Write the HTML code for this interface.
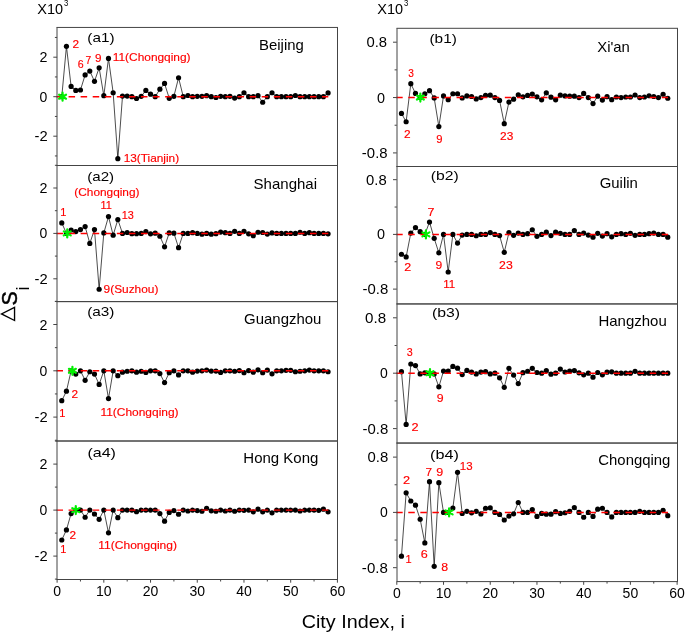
<!DOCTYPE html>
<html><head><meta charset="utf-8"><style>
html,body{margin:0;padding:0;background:#fff;}
body{width:685px;height:633px;overflow:hidden;}
svg{display:block;font-family:"Liberation Sans", sans-serif;will-change:transform;}
</style></head><body>
<svg width="685" height="633" viewBox="0 0 685 633">
<rect width="685" height="633" fill="#fff"/>
<path d="M61.77,96.70 L66.44,46.34 L71.12,86.43 L75.79,90.38 L80.46,89.98 L85.13,74.97 L89.80,71.03 L94.48,81.30 L99.15,67.87 L103.82,95.71 L108.49,58.39 L113.16,92.75 L117.84,158.72 L122.51,96.11 L127.18,96.11 L131.85,96.70 L136.52,98.48 L141.20,96.31 L145.87,90.38 L150.54,94.13 L155.21,96.70 L159.88,89.20 L164.56,83.47 L169.23,98.28 L173.90,96.31 L178.57,77.74 L183.24,96.70 L187.92,95.52 L192.59,96.70 L197.26,96.31 L201.93,96.31 L206.60,95.71 L211.28,96.70 L215.95,97.49 L220.62,96.31 L225.29,96.70 L229.96,96.31 L234.64,98.08 L239.31,96.70 L243.98,92.75 L248.65,96.70 L253.32,96.70 L258.00,95.71 L262.67,102.23 L267.34,96.70 L272.01,92.75 L276.68,96.70 L281.36,96.70 L286.03,96.70 L290.70,96.70 L295.37,95.52 L300.04,96.70 L304.72,96.70 L309.39,96.70 L314.06,96.70 L318.73,96.70 L323.40,96.70 L328.08,92.95" fill="none" stroke="#000" stroke-width="0.7"/>
<circle cx="61.77" cy="96.70" r="2.6" fill="#000"/>
<circle cx="66.44" cy="46.34" r="2.6" fill="#000"/>
<circle cx="71.12" cy="86.43" r="2.6" fill="#000"/>
<circle cx="75.79" cy="90.38" r="2.6" fill="#000"/>
<circle cx="80.46" cy="89.98" r="2.6" fill="#000"/>
<circle cx="85.13" cy="74.97" r="2.6" fill="#000"/>
<circle cx="89.80" cy="71.03" r="2.6" fill="#000"/>
<circle cx="94.48" cy="81.30" r="2.6" fill="#000"/>
<circle cx="99.15" cy="67.87" r="2.6" fill="#000"/>
<circle cx="103.82" cy="95.71" r="2.6" fill="#000"/>
<circle cx="108.49" cy="58.39" r="2.6" fill="#000"/>
<circle cx="113.16" cy="92.75" r="2.6" fill="#000"/>
<circle cx="117.84" cy="158.72" r="2.6" fill="#000"/>
<circle cx="122.51" cy="96.11" r="2.6" fill="#000"/>
<circle cx="127.18" cy="96.11" r="2.6" fill="#000"/>
<circle cx="131.85" cy="96.70" r="2.6" fill="#000"/>
<circle cx="136.52" cy="98.48" r="2.6" fill="#000"/>
<circle cx="141.20" cy="96.31" r="2.6" fill="#000"/>
<circle cx="145.87" cy="90.38" r="2.6" fill="#000"/>
<circle cx="150.54" cy="94.13" r="2.6" fill="#000"/>
<circle cx="155.21" cy="96.70" r="2.6" fill="#000"/>
<circle cx="159.88" cy="89.20" r="2.6" fill="#000"/>
<circle cx="164.56" cy="83.47" r="2.6" fill="#000"/>
<circle cx="169.23" cy="98.28" r="2.6" fill="#000"/>
<circle cx="173.90" cy="96.31" r="2.6" fill="#000"/>
<circle cx="178.57" cy="77.74" r="2.6" fill="#000"/>
<circle cx="183.24" cy="96.70" r="2.6" fill="#000"/>
<circle cx="187.92" cy="95.52" r="2.6" fill="#000"/>
<circle cx="192.59" cy="96.70" r="2.6" fill="#000"/>
<circle cx="197.26" cy="96.31" r="2.6" fill="#000"/>
<circle cx="201.93" cy="96.31" r="2.6" fill="#000"/>
<circle cx="206.60" cy="95.71" r="2.6" fill="#000"/>
<circle cx="211.28" cy="96.70" r="2.6" fill="#000"/>
<circle cx="215.95" cy="97.49" r="2.6" fill="#000"/>
<circle cx="220.62" cy="96.31" r="2.6" fill="#000"/>
<circle cx="225.29" cy="96.70" r="2.6" fill="#000"/>
<circle cx="229.96" cy="96.31" r="2.6" fill="#000"/>
<circle cx="234.64" cy="98.08" r="2.6" fill="#000"/>
<circle cx="239.31" cy="96.70" r="2.6" fill="#000"/>
<circle cx="243.98" cy="92.75" r="2.6" fill="#000"/>
<circle cx="248.65" cy="96.70" r="2.6" fill="#000"/>
<circle cx="253.32" cy="96.70" r="2.6" fill="#000"/>
<circle cx="258.00" cy="95.71" r="2.6" fill="#000"/>
<circle cx="262.67" cy="102.23" r="2.6" fill="#000"/>
<circle cx="267.34" cy="96.70" r="2.6" fill="#000"/>
<circle cx="272.01" cy="92.75" r="2.6" fill="#000"/>
<circle cx="276.68" cy="96.70" r="2.6" fill="#000"/>
<circle cx="281.36" cy="96.70" r="2.6" fill="#000"/>
<circle cx="286.03" cy="96.70" r="2.6" fill="#000"/>
<circle cx="290.70" cy="96.70" r="2.6" fill="#000"/>
<circle cx="295.37" cy="95.52" r="2.6" fill="#000"/>
<circle cx="300.04" cy="96.70" r="2.6" fill="#000"/>
<circle cx="304.72" cy="96.70" r="2.6" fill="#000"/>
<circle cx="309.39" cy="96.70" r="2.6" fill="#000"/>
<circle cx="314.06" cy="96.70" r="2.6" fill="#000"/>
<circle cx="318.73" cy="96.70" r="2.6" fill="#000"/>
<circle cx="323.40" cy="96.70" r="2.6" fill="#000"/>
<circle cx="328.08" cy="92.95" r="2.6" fill="#000"/>
<line x1="56.50" y1="96.70" x2="328.31" y2="96.70" stroke="#ff0000" stroke-width="1.45" stroke-dasharray="6.5 5.57"/>
<path d="M62.57,92.70 L62.57,100.70 M59.11,94.70 L66.04,98.70 M59.11,98.70 L66.04,94.70" stroke="#00f000" stroke-width="2.2" stroke-linecap="round" fill="none"/>
<line x1="57.00" y1="27.45" x2="57.00" y2="165.50" stroke="#444" stroke-width="1"/>
<line x1="337.50" y1="27.45" x2="337.50" y2="165.50" stroke="#444" stroke-width="1"/>
<line x1="56.50" y1="27.45" x2="338.00" y2="27.45" stroke="#444" stroke-width="1"/>
<line x1="56.50" y1="165.50" x2="338.00" y2="165.50" stroke="#444" stroke-width="1"/>
<line x1="53.30" y1="57.20" x2="57.10" y2="57.20" stroke="#444" stroke-width="1"/>
<text x="39.63" y="62.20" font-size="14" textLength="7.94" lengthAdjust="spacingAndGlyphs">2</text>
<line x1="53.30" y1="96.70" x2="57.10" y2="96.70" stroke="#444" stroke-width="1"/>
<text x="39.60" y="101.70" font-size="14" textLength="7.79" lengthAdjust="spacingAndGlyphs">0</text>
<line x1="53.30" y1="136.20" x2="57.10" y2="136.20" stroke="#444" stroke-width="1"/>
<text x="34.50" y="141.20" font-size="14" textLength="13.10" lengthAdjust="spacingAndGlyphs">-2</text>
<line x1="54.90" y1="37.45" x2="57.10" y2="37.45" stroke="#444" stroke-width="1"/>
<line x1="54.90" y1="76.95" x2="57.10" y2="76.95" stroke="#444" stroke-width="1"/>
<line x1="54.90" y1="116.45" x2="57.10" y2="116.45" stroke="#444" stroke-width="1"/>
<line x1="54.90" y1="155.95" x2="57.10" y2="155.95" stroke="#444" stroke-width="1"/>
<path d="M61.77,222.96 L66.44,233.40 L71.12,230.00 L75.79,231.58 L80.46,229.54 L85.13,226.59 L89.80,243.39 L94.48,229.54 L99.15,289.24 L103.82,232.95 L108.49,216.60 L113.16,235.22 L117.84,219.55 L122.51,233.40 L127.18,232.49 L131.85,233.63 L136.52,233.63 L141.20,233.40 L145.87,231.58 L150.54,233.85 L155.21,233.17 L159.88,236.24 L164.56,246.79 L169.23,232.95 L173.90,233.17 L178.57,247.70 L183.24,233.40 L187.92,233.40 L192.59,232.72 L197.26,233.40 L201.93,234.19 L206.60,233.40 L211.28,234.19 L215.95,233.63 L220.62,232.04 L225.29,232.72 L229.96,233.40 L234.64,231.36 L239.31,233.40 L243.98,231.36 L248.65,233.85 L253.32,235.67 L258.00,232.27 L262.67,232.49 L267.34,234.08 L272.01,232.95 L276.68,233.40 L281.36,233.40 L286.03,233.40 L290.70,233.40 L295.37,233.40 L300.04,232.27 L304.72,233.40 L309.39,232.72 L314.06,233.40 L318.73,233.40 L323.40,233.40 L328.08,233.85" fill="none" stroke="#000" stroke-width="0.7"/>
<circle cx="61.77" cy="222.96" r="2.6" fill="#000"/>
<circle cx="66.44" cy="233.40" r="2.6" fill="#000"/>
<circle cx="71.12" cy="230.00" r="2.6" fill="#000"/>
<circle cx="75.79" cy="231.58" r="2.6" fill="#000"/>
<circle cx="80.46" cy="229.54" r="2.6" fill="#000"/>
<circle cx="85.13" cy="226.59" r="2.6" fill="#000"/>
<circle cx="89.80" cy="243.39" r="2.6" fill="#000"/>
<circle cx="94.48" cy="229.54" r="2.6" fill="#000"/>
<circle cx="99.15" cy="289.24" r="2.6" fill="#000"/>
<circle cx="103.82" cy="232.95" r="2.6" fill="#000"/>
<circle cx="108.49" cy="216.60" r="2.6" fill="#000"/>
<circle cx="113.16" cy="235.22" r="2.6" fill="#000"/>
<circle cx="117.84" cy="219.55" r="2.6" fill="#000"/>
<circle cx="122.51" cy="233.40" r="2.6" fill="#000"/>
<circle cx="127.18" cy="232.49" r="2.6" fill="#000"/>
<circle cx="131.85" cy="233.63" r="2.6" fill="#000"/>
<circle cx="136.52" cy="233.63" r="2.6" fill="#000"/>
<circle cx="141.20" cy="233.40" r="2.6" fill="#000"/>
<circle cx="145.87" cy="231.58" r="2.6" fill="#000"/>
<circle cx="150.54" cy="233.85" r="2.6" fill="#000"/>
<circle cx="155.21" cy="233.17" r="2.6" fill="#000"/>
<circle cx="159.88" cy="236.24" r="2.6" fill="#000"/>
<circle cx="164.56" cy="246.79" r="2.6" fill="#000"/>
<circle cx="169.23" cy="232.95" r="2.6" fill="#000"/>
<circle cx="173.90" cy="233.17" r="2.6" fill="#000"/>
<circle cx="178.57" cy="247.70" r="2.6" fill="#000"/>
<circle cx="183.24" cy="233.40" r="2.6" fill="#000"/>
<circle cx="187.92" cy="233.40" r="2.6" fill="#000"/>
<circle cx="192.59" cy="232.72" r="2.6" fill="#000"/>
<circle cx="197.26" cy="233.40" r="2.6" fill="#000"/>
<circle cx="201.93" cy="234.19" r="2.6" fill="#000"/>
<circle cx="206.60" cy="233.40" r="2.6" fill="#000"/>
<circle cx="211.28" cy="234.19" r="2.6" fill="#000"/>
<circle cx="215.95" cy="233.63" r="2.6" fill="#000"/>
<circle cx="220.62" cy="232.04" r="2.6" fill="#000"/>
<circle cx="225.29" cy="232.72" r="2.6" fill="#000"/>
<circle cx="229.96" cy="233.40" r="2.6" fill="#000"/>
<circle cx="234.64" cy="231.36" r="2.6" fill="#000"/>
<circle cx="239.31" cy="233.40" r="2.6" fill="#000"/>
<circle cx="243.98" cy="231.36" r="2.6" fill="#000"/>
<circle cx="248.65" cy="233.85" r="2.6" fill="#000"/>
<circle cx="253.32" cy="235.67" r="2.6" fill="#000"/>
<circle cx="258.00" cy="232.27" r="2.6" fill="#000"/>
<circle cx="262.67" cy="232.49" r="2.6" fill="#000"/>
<circle cx="267.34" cy="234.08" r="2.6" fill="#000"/>
<circle cx="272.01" cy="232.95" r="2.6" fill="#000"/>
<circle cx="276.68" cy="233.40" r="2.6" fill="#000"/>
<circle cx="281.36" cy="233.40" r="2.6" fill="#000"/>
<circle cx="286.03" cy="233.40" r="2.6" fill="#000"/>
<circle cx="290.70" cy="233.40" r="2.6" fill="#000"/>
<circle cx="295.37" cy="233.40" r="2.6" fill="#000"/>
<circle cx="300.04" cy="232.27" r="2.6" fill="#000"/>
<circle cx="304.72" cy="233.40" r="2.6" fill="#000"/>
<circle cx="309.39" cy="232.72" r="2.6" fill="#000"/>
<circle cx="314.06" cy="233.40" r="2.6" fill="#000"/>
<circle cx="318.73" cy="233.40" r="2.6" fill="#000"/>
<circle cx="323.40" cy="233.40" r="2.6" fill="#000"/>
<circle cx="328.08" cy="233.85" r="2.6" fill="#000"/>
<line x1="56.50" y1="233.40" x2="328.31" y2="233.40" stroke="#ff0000" stroke-width="1.45" stroke-dasharray="6.5 5.57"/>
<path d="M67.24,229.40 L67.24,237.40 M63.78,231.40 L70.71,235.40 M63.78,235.40 L70.71,231.40" stroke="#00f000" stroke-width="2.2" stroke-linecap="round" fill="none"/>
<line x1="57.00" y1="165.50" x2="57.00" y2="301.60" stroke="#444" stroke-width="1"/>
<line x1="337.50" y1="165.50" x2="337.50" y2="301.60" stroke="#444" stroke-width="1"/>
<line x1="56.50" y1="165.50" x2="338.00" y2="165.50" stroke="#444" stroke-width="1"/>
<line x1="56.50" y1="301.60" x2="338.00" y2="301.60" stroke="#444" stroke-width="1"/>
<line x1="53.30" y1="188.00" x2="57.10" y2="188.00" stroke="#444" stroke-width="1"/>
<text x="39.63" y="193.00" font-size="14" textLength="7.94" lengthAdjust="spacingAndGlyphs">2</text>
<line x1="53.30" y1="233.40" x2="57.10" y2="233.40" stroke="#444" stroke-width="1"/>
<text x="39.60" y="238.40" font-size="14" textLength="7.79" lengthAdjust="spacingAndGlyphs">0</text>
<line x1="53.30" y1="278.80" x2="57.10" y2="278.80" stroke="#444" stroke-width="1"/>
<text x="34.50" y="283.80" font-size="14" textLength="13.10" lengthAdjust="spacingAndGlyphs">-2</text>
<line x1="54.90" y1="165.30" x2="57.10" y2="165.30" stroke="#444" stroke-width="1"/>
<line x1="54.90" y1="210.70" x2="57.10" y2="210.70" stroke="#444" stroke-width="1"/>
<line x1="54.90" y1="256.10" x2="57.10" y2="256.10" stroke="#444" stroke-width="1"/>
<line x1="54.90" y1="301.50" x2="57.10" y2="301.50" stroke="#444" stroke-width="1"/>
<path d="M61.77,400.66 L66.44,391.17 L71.12,370.80 L75.79,374.04 L80.46,370.80 L85.13,380.29 L89.80,371.73 L94.48,374.04 L99.15,384.46 L103.82,370.80 L108.49,398.58 L113.16,370.80 L117.84,375.66 L122.51,372.19 L127.18,371.26 L131.85,370.80 L136.52,372.19 L141.20,371.26 L145.87,372.42 L150.54,370.80 L155.21,370.80 L159.88,373.58 L164.56,382.61 L169.23,372.65 L173.90,370.80 L178.57,374.97 L183.24,370.80 L187.92,370.80 L192.59,372.19 L197.26,371.03 L201.93,370.80 L206.60,370.11 L211.28,371.03 L215.95,371.03 L220.62,372.42 L225.29,370.80 L229.96,370.80 L234.64,371.26 L239.31,370.57 L243.98,372.65 L248.65,370.57 L253.32,372.19 L258.00,369.87 L262.67,372.65 L267.34,370.11 L272.01,373.81 L276.68,370.80 L281.36,370.80 L286.03,370.34 L290.70,370.34 L295.37,371.73 L300.04,371.26 L304.72,370.80 L309.39,370.11 L314.06,370.80 L318.73,370.80 L323.40,370.80 L328.08,371.73" fill="none" stroke="#000" stroke-width="0.7"/>
<circle cx="61.77" cy="400.66" r="2.6" fill="#000"/>
<circle cx="66.44" cy="391.17" r="2.6" fill="#000"/>
<circle cx="71.12" cy="370.80" r="2.6" fill="#000"/>
<circle cx="75.79" cy="374.04" r="2.6" fill="#000"/>
<circle cx="80.46" cy="370.80" r="2.6" fill="#000"/>
<circle cx="85.13" cy="380.29" r="2.6" fill="#000"/>
<circle cx="89.80" cy="371.73" r="2.6" fill="#000"/>
<circle cx="94.48" cy="374.04" r="2.6" fill="#000"/>
<circle cx="99.15" cy="384.46" r="2.6" fill="#000"/>
<circle cx="103.82" cy="370.80" r="2.6" fill="#000"/>
<circle cx="108.49" cy="398.58" r="2.6" fill="#000"/>
<circle cx="113.16" cy="370.80" r="2.6" fill="#000"/>
<circle cx="117.84" cy="375.66" r="2.6" fill="#000"/>
<circle cx="122.51" cy="372.19" r="2.6" fill="#000"/>
<circle cx="127.18" cy="371.26" r="2.6" fill="#000"/>
<circle cx="131.85" cy="370.80" r="2.6" fill="#000"/>
<circle cx="136.52" cy="372.19" r="2.6" fill="#000"/>
<circle cx="141.20" cy="371.26" r="2.6" fill="#000"/>
<circle cx="145.87" cy="372.42" r="2.6" fill="#000"/>
<circle cx="150.54" cy="370.80" r="2.6" fill="#000"/>
<circle cx="155.21" cy="370.80" r="2.6" fill="#000"/>
<circle cx="159.88" cy="373.58" r="2.6" fill="#000"/>
<circle cx="164.56" cy="382.61" r="2.6" fill="#000"/>
<circle cx="169.23" cy="372.65" r="2.6" fill="#000"/>
<circle cx="173.90" cy="370.80" r="2.6" fill="#000"/>
<circle cx="178.57" cy="374.97" r="2.6" fill="#000"/>
<circle cx="183.24" cy="370.80" r="2.6" fill="#000"/>
<circle cx="187.92" cy="370.80" r="2.6" fill="#000"/>
<circle cx="192.59" cy="372.19" r="2.6" fill="#000"/>
<circle cx="197.26" cy="371.03" r="2.6" fill="#000"/>
<circle cx="201.93" cy="370.80" r="2.6" fill="#000"/>
<circle cx="206.60" cy="370.11" r="2.6" fill="#000"/>
<circle cx="211.28" cy="371.03" r="2.6" fill="#000"/>
<circle cx="215.95" cy="371.03" r="2.6" fill="#000"/>
<circle cx="220.62" cy="372.42" r="2.6" fill="#000"/>
<circle cx="225.29" cy="370.80" r="2.6" fill="#000"/>
<circle cx="229.96" cy="370.80" r="2.6" fill="#000"/>
<circle cx="234.64" cy="371.26" r="2.6" fill="#000"/>
<circle cx="239.31" cy="370.57" r="2.6" fill="#000"/>
<circle cx="243.98" cy="372.65" r="2.6" fill="#000"/>
<circle cx="248.65" cy="370.57" r="2.6" fill="#000"/>
<circle cx="253.32" cy="372.19" r="2.6" fill="#000"/>
<circle cx="258.00" cy="369.87" r="2.6" fill="#000"/>
<circle cx="262.67" cy="372.65" r="2.6" fill="#000"/>
<circle cx="267.34" cy="370.11" r="2.6" fill="#000"/>
<circle cx="272.01" cy="373.81" r="2.6" fill="#000"/>
<circle cx="276.68" cy="370.80" r="2.6" fill="#000"/>
<circle cx="281.36" cy="370.80" r="2.6" fill="#000"/>
<circle cx="286.03" cy="370.34" r="2.6" fill="#000"/>
<circle cx="290.70" cy="370.34" r="2.6" fill="#000"/>
<circle cx="295.37" cy="371.73" r="2.6" fill="#000"/>
<circle cx="300.04" cy="371.26" r="2.6" fill="#000"/>
<circle cx="304.72" cy="370.80" r="2.6" fill="#000"/>
<circle cx="309.39" cy="370.11" r="2.6" fill="#000"/>
<circle cx="314.06" cy="370.80" r="2.6" fill="#000"/>
<circle cx="318.73" cy="370.80" r="2.6" fill="#000"/>
<circle cx="323.40" cy="370.80" r="2.6" fill="#000"/>
<circle cx="328.08" cy="371.73" r="2.6" fill="#000"/>
<line x1="56.50" y1="370.80" x2="328.31" y2="370.80" stroke="#ff0000" stroke-width="1.45" stroke-dasharray="6.5 5.57"/>
<path d="M72.42,366.80 L72.42,374.80 M68.95,368.80 L75.88,372.80 M68.95,372.80 L75.88,368.80" stroke="#00f000" stroke-width="2.2" stroke-linecap="round" fill="none"/>
<line x1="57.00" y1="301.60" x2="57.00" y2="441.00" stroke="#444" stroke-width="1"/>
<line x1="337.50" y1="301.60" x2="337.50" y2="441.00" stroke="#444" stroke-width="1"/>
<line x1="56.50" y1="301.60" x2="338.00" y2="301.60" stroke="#444" stroke-width="1"/>
<line x1="56.50" y1="441.00" x2="338.00" y2="441.00" stroke="#444" stroke-width="1"/>
<line x1="53.30" y1="324.50" x2="57.10" y2="324.50" stroke="#444" stroke-width="1"/>
<text x="39.63" y="329.50" font-size="14" textLength="7.94" lengthAdjust="spacingAndGlyphs">2</text>
<line x1="53.30" y1="370.80" x2="57.10" y2="370.80" stroke="#444" stroke-width="1"/>
<text x="39.60" y="375.80" font-size="14" textLength="7.79" lengthAdjust="spacingAndGlyphs">0</text>
<line x1="53.30" y1="417.10" x2="57.10" y2="417.10" stroke="#444" stroke-width="1"/>
<text x="34.50" y="422.10" font-size="14" textLength="13.10" lengthAdjust="spacingAndGlyphs">-2</text>
<line x1="54.90" y1="301.35" x2="57.10" y2="301.35" stroke="#444" stroke-width="1"/>
<line x1="54.90" y1="347.65" x2="57.10" y2="347.65" stroke="#444" stroke-width="1"/>
<line x1="54.90" y1="393.95" x2="57.10" y2="393.95" stroke="#444" stroke-width="1"/>
<line x1="54.90" y1="440.25" x2="57.10" y2="440.25" stroke="#444" stroke-width="1"/>
<path d="M61.77,540.00 L66.44,529.88 L71.12,513.55 L75.79,510.10 L80.46,510.10 L85.13,517.23 L89.80,510.10 L94.48,514.01 L99.15,519.30 L103.82,510.10 L108.49,532.87 L113.16,510.10 L117.84,517.69 L122.51,510.10 L127.18,510.10 L131.85,510.10 L136.52,511.71 L141.20,510.10 L145.87,510.10 L150.54,510.10 L155.21,510.10 L159.88,513.55 L164.56,521.14 L169.23,512.40 L173.90,510.56 L178.57,514.24 L183.24,510.10 L187.92,511.02 L192.59,510.10 L197.26,510.56 L201.93,511.25 L206.60,508.26 L211.28,510.79 L215.95,511.25 L220.62,510.10 L225.29,511.02 L229.96,510.10 L234.64,511.25 L239.31,510.10 L243.98,510.33 L248.65,510.10 L253.32,511.83 L258.00,509.18 L262.67,511.83 L267.34,510.10 L272.01,512.86 L276.68,510.10 L281.36,510.10 L286.03,510.10 L290.70,510.10 L295.37,510.10 L300.04,511.02 L304.72,510.10 L309.39,510.10 L314.06,510.10 L318.73,510.33 L323.40,509.18 L328.08,511.83" fill="none" stroke="#000" stroke-width="0.7"/>
<circle cx="61.77" cy="540.00" r="2.6" fill="#000"/>
<circle cx="66.44" cy="529.88" r="2.6" fill="#000"/>
<circle cx="71.12" cy="513.55" r="2.6" fill="#000"/>
<circle cx="75.79" cy="510.10" r="2.6" fill="#000"/>
<circle cx="80.46" cy="510.10" r="2.6" fill="#000"/>
<circle cx="85.13" cy="517.23" r="2.6" fill="#000"/>
<circle cx="89.80" cy="510.10" r="2.6" fill="#000"/>
<circle cx="94.48" cy="514.01" r="2.6" fill="#000"/>
<circle cx="99.15" cy="519.30" r="2.6" fill="#000"/>
<circle cx="103.82" cy="510.10" r="2.6" fill="#000"/>
<circle cx="108.49" cy="532.87" r="2.6" fill="#000"/>
<circle cx="113.16" cy="510.10" r="2.6" fill="#000"/>
<circle cx="117.84" cy="517.69" r="2.6" fill="#000"/>
<circle cx="122.51" cy="510.10" r="2.6" fill="#000"/>
<circle cx="127.18" cy="510.10" r="2.6" fill="#000"/>
<circle cx="131.85" cy="510.10" r="2.6" fill="#000"/>
<circle cx="136.52" cy="511.71" r="2.6" fill="#000"/>
<circle cx="141.20" cy="510.10" r="2.6" fill="#000"/>
<circle cx="145.87" cy="510.10" r="2.6" fill="#000"/>
<circle cx="150.54" cy="510.10" r="2.6" fill="#000"/>
<circle cx="155.21" cy="510.10" r="2.6" fill="#000"/>
<circle cx="159.88" cy="513.55" r="2.6" fill="#000"/>
<circle cx="164.56" cy="521.14" r="2.6" fill="#000"/>
<circle cx="169.23" cy="512.40" r="2.6" fill="#000"/>
<circle cx="173.90" cy="510.56" r="2.6" fill="#000"/>
<circle cx="178.57" cy="514.24" r="2.6" fill="#000"/>
<circle cx="183.24" cy="510.10" r="2.6" fill="#000"/>
<circle cx="187.92" cy="511.02" r="2.6" fill="#000"/>
<circle cx="192.59" cy="510.10" r="2.6" fill="#000"/>
<circle cx="197.26" cy="510.56" r="2.6" fill="#000"/>
<circle cx="201.93" cy="511.25" r="2.6" fill="#000"/>
<circle cx="206.60" cy="508.26" r="2.6" fill="#000"/>
<circle cx="211.28" cy="510.79" r="2.6" fill="#000"/>
<circle cx="215.95" cy="511.25" r="2.6" fill="#000"/>
<circle cx="220.62" cy="510.10" r="2.6" fill="#000"/>
<circle cx="225.29" cy="511.02" r="2.6" fill="#000"/>
<circle cx="229.96" cy="510.10" r="2.6" fill="#000"/>
<circle cx="234.64" cy="511.25" r="2.6" fill="#000"/>
<circle cx="239.31" cy="510.10" r="2.6" fill="#000"/>
<circle cx="243.98" cy="510.33" r="2.6" fill="#000"/>
<circle cx="248.65" cy="510.10" r="2.6" fill="#000"/>
<circle cx="253.32" cy="511.83" r="2.6" fill="#000"/>
<circle cx="258.00" cy="509.18" r="2.6" fill="#000"/>
<circle cx="262.67" cy="511.83" r="2.6" fill="#000"/>
<circle cx="267.34" cy="510.10" r="2.6" fill="#000"/>
<circle cx="272.01" cy="512.86" r="2.6" fill="#000"/>
<circle cx="276.68" cy="510.10" r="2.6" fill="#000"/>
<circle cx="281.36" cy="510.10" r="2.6" fill="#000"/>
<circle cx="286.03" cy="510.10" r="2.6" fill="#000"/>
<circle cx="290.70" cy="510.10" r="2.6" fill="#000"/>
<circle cx="295.37" cy="510.10" r="2.6" fill="#000"/>
<circle cx="300.04" cy="511.02" r="2.6" fill="#000"/>
<circle cx="304.72" cy="510.10" r="2.6" fill="#000"/>
<circle cx="309.39" cy="510.10" r="2.6" fill="#000"/>
<circle cx="314.06" cy="510.10" r="2.6" fill="#000"/>
<circle cx="318.73" cy="510.33" r="2.6" fill="#000"/>
<circle cx="323.40" cy="509.18" r="2.6" fill="#000"/>
<circle cx="328.08" cy="511.83" r="2.6" fill="#000"/>
<line x1="56.50" y1="510.10" x2="328.31" y2="510.10" stroke="#ff0000" stroke-width="1.45" stroke-dasharray="6.5 5.57"/>
<path d="M75.79,506.10 L75.79,514.10 M72.32,508.10 L79.25,512.10 M72.32,512.10 L79.25,508.10" stroke="#00f000" stroke-width="2.2" stroke-linecap="round" fill="none"/>
<line x1="57.00" y1="441.00" x2="57.00" y2="579.50" stroke="#444" stroke-width="1"/>
<line x1="337.50" y1="441.00" x2="337.50" y2="579.50" stroke="#444" stroke-width="1"/>
<line x1="56.50" y1="441.00" x2="338.00" y2="441.00" stroke="#444" stroke-width="1"/>
<line x1="56.50" y1="579.50" x2="338.00" y2="579.50" stroke="#444" stroke-width="1"/>
<line x1="53.30" y1="464.10" x2="57.10" y2="464.10" stroke="#444" stroke-width="1"/>
<text x="39.63" y="469.10" font-size="14" textLength="7.94" lengthAdjust="spacingAndGlyphs">2</text>
<line x1="53.30" y1="510.10" x2="57.10" y2="510.10" stroke="#444" stroke-width="1"/>
<text x="39.60" y="515.10" font-size="14" textLength="7.79" lengthAdjust="spacingAndGlyphs">0</text>
<line x1="53.30" y1="556.10" x2="57.10" y2="556.10" stroke="#444" stroke-width="1"/>
<text x="34.50" y="561.10" font-size="14" textLength="13.10" lengthAdjust="spacingAndGlyphs">-2</text>
<line x1="54.90" y1="441.10" x2="57.10" y2="441.10" stroke="#444" stroke-width="1"/>
<line x1="54.90" y1="487.10" x2="57.10" y2="487.10" stroke="#444" stroke-width="1"/>
<line x1="54.90" y1="533.10" x2="57.10" y2="533.10" stroke="#444" stroke-width="1"/>
<line x1="54.90" y1="579.10" x2="57.10" y2="579.10" stroke="#444" stroke-width="1"/>
<line x1="57.10" y1="579.50" x2="57.10" y2="582.70" stroke="#444" stroke-width="1"/>
<text x="57.10" y="596.10" font-size="14" text-anchor="middle">0</text>
<line x1="80.46" y1="579.50" x2="80.46" y2="581.50" stroke="#444" stroke-width="1"/>
<line x1="103.82" y1="579.50" x2="103.82" y2="582.70" stroke="#444" stroke-width="1"/>
<text x="103.82" y="596.10" font-size="14" text-anchor="middle">10</text>
<line x1="127.18" y1="579.50" x2="127.18" y2="581.50" stroke="#444" stroke-width="1"/>
<line x1="150.54" y1="579.50" x2="150.54" y2="582.70" stroke="#444" stroke-width="1"/>
<text x="150.54" y="596.10" font-size="14" text-anchor="middle">20</text>
<line x1="173.90" y1="579.50" x2="173.90" y2="581.50" stroke="#444" stroke-width="1"/>
<line x1="197.26" y1="579.50" x2="197.26" y2="582.70" stroke="#444" stroke-width="1"/>
<text x="197.26" y="596.10" font-size="14" text-anchor="middle">30</text>
<line x1="220.62" y1="579.50" x2="220.62" y2="581.50" stroke="#444" stroke-width="1"/>
<line x1="243.98" y1="579.50" x2="243.98" y2="582.70" stroke="#444" stroke-width="1"/>
<text x="243.98" y="596.10" font-size="14" text-anchor="middle">40</text>
<line x1="267.34" y1="579.50" x2="267.34" y2="581.50" stroke="#444" stroke-width="1"/>
<line x1="290.70" y1="579.50" x2="290.70" y2="582.70" stroke="#444" stroke-width="1"/>
<text x="290.70" y="596.10" font-size="14" text-anchor="middle">50</text>
<line x1="314.06" y1="579.50" x2="314.06" y2="581.50" stroke="#444" stroke-width="1"/>
<line x1="337.42" y1="579.50" x2="337.42" y2="582.70" stroke="#444" stroke-width="1"/>
<text x="337.42" y="596.10" font-size="14" text-anchor="middle">60</text>
<path d="M401.47,113.47 L406.14,121.77 L410.82,83.71 L415.49,93.40 L420.16,97.55 L424.83,93.74 L429.50,90.63 L434.18,97.97 L438.85,126.61 L443.52,95.96 L448.19,99.63 L452.86,93.74 L457.54,93.74 L462.21,97.97 L466.88,95.96 L471.55,96.51 L476.22,98.93 L480.90,97.55 L485.57,95.47 L490.24,95.20 L494.91,97.55 L499.58,100.46 L504.26,123.64 L508.93,102.05 L513.60,99.14 L518.27,94.78 L522.94,96.86 L527.62,95.47 L532.29,94.09 L536.96,96.86 L541.63,99.83 L546.30,92.84 L550.98,97.20 L555.65,99.83 L560.32,95.20 L564.99,95.89 L569.66,96.17 L574.34,96.17 L579.01,97.55 L583.68,93.47 L588.35,97.55 L593.02,103.57 L597.70,96.17 L602.37,100.04 L607.04,96.65 L611.71,99.63 L616.38,97.00 L621.06,97.55 L625.73,97.00 L630.40,97.00 L635.07,94.99 L639.74,97.55 L644.42,97.00 L649.09,95.75 L653.76,96.51 L658.43,97.55 L663.10,94.23 L667.78,98.24" fill="none" stroke="#000" stroke-width="0.7"/>
<circle cx="401.47" cy="113.47" r="2.6" fill="#000"/>
<circle cx="406.14" cy="121.77" r="2.6" fill="#000"/>
<circle cx="410.82" cy="83.71" r="2.6" fill="#000"/>
<circle cx="415.49" cy="93.40" r="2.6" fill="#000"/>
<circle cx="420.16" cy="97.55" r="2.6" fill="#000"/>
<circle cx="424.83" cy="93.74" r="2.6" fill="#000"/>
<circle cx="429.50" cy="90.63" r="2.6" fill="#000"/>
<circle cx="434.18" cy="97.97" r="2.6" fill="#000"/>
<circle cx="438.85" cy="126.61" r="2.6" fill="#000"/>
<circle cx="443.52" cy="95.96" r="2.6" fill="#000"/>
<circle cx="448.19" cy="99.63" r="2.6" fill="#000"/>
<circle cx="452.86" cy="93.74" r="2.6" fill="#000"/>
<circle cx="457.54" cy="93.74" r="2.6" fill="#000"/>
<circle cx="462.21" cy="97.97" r="2.6" fill="#000"/>
<circle cx="466.88" cy="95.96" r="2.6" fill="#000"/>
<circle cx="471.55" cy="96.51" r="2.6" fill="#000"/>
<circle cx="476.22" cy="98.93" r="2.6" fill="#000"/>
<circle cx="480.90" cy="97.55" r="2.6" fill="#000"/>
<circle cx="485.57" cy="95.47" r="2.6" fill="#000"/>
<circle cx="490.24" cy="95.20" r="2.6" fill="#000"/>
<circle cx="494.91" cy="97.55" r="2.6" fill="#000"/>
<circle cx="499.58" cy="100.46" r="2.6" fill="#000"/>
<circle cx="504.26" cy="123.64" r="2.6" fill="#000"/>
<circle cx="508.93" cy="102.05" r="2.6" fill="#000"/>
<circle cx="513.60" cy="99.14" r="2.6" fill="#000"/>
<circle cx="518.27" cy="94.78" r="2.6" fill="#000"/>
<circle cx="522.94" cy="96.86" r="2.6" fill="#000"/>
<circle cx="527.62" cy="95.47" r="2.6" fill="#000"/>
<circle cx="532.29" cy="94.09" r="2.6" fill="#000"/>
<circle cx="536.96" cy="96.86" r="2.6" fill="#000"/>
<circle cx="541.63" cy="99.83" r="2.6" fill="#000"/>
<circle cx="546.30" cy="92.84" r="2.6" fill="#000"/>
<circle cx="550.98" cy="97.20" r="2.6" fill="#000"/>
<circle cx="555.65" cy="99.83" r="2.6" fill="#000"/>
<circle cx="560.32" cy="95.20" r="2.6" fill="#000"/>
<circle cx="564.99" cy="95.89" r="2.6" fill="#000"/>
<circle cx="569.66" cy="96.17" r="2.6" fill="#000"/>
<circle cx="574.34" cy="96.17" r="2.6" fill="#000"/>
<circle cx="579.01" cy="97.55" r="2.6" fill="#000"/>
<circle cx="583.68" cy="93.47" r="2.6" fill="#000"/>
<circle cx="588.35" cy="97.55" r="2.6" fill="#000"/>
<circle cx="593.02" cy="103.57" r="2.6" fill="#000"/>
<circle cx="597.70" cy="96.17" r="2.6" fill="#000"/>
<circle cx="602.37" cy="100.04" r="2.6" fill="#000"/>
<circle cx="607.04" cy="96.65" r="2.6" fill="#000"/>
<circle cx="611.71" cy="99.63" r="2.6" fill="#000"/>
<circle cx="616.38" cy="97.00" r="2.6" fill="#000"/>
<circle cx="621.06" cy="97.55" r="2.6" fill="#000"/>
<circle cx="625.73" cy="97.00" r="2.6" fill="#000"/>
<circle cx="630.40" cy="97.00" r="2.6" fill="#000"/>
<circle cx="635.07" cy="94.99" r="2.6" fill="#000"/>
<circle cx="639.74" cy="97.55" r="2.6" fill="#000"/>
<circle cx="644.42" cy="97.00" r="2.6" fill="#000"/>
<circle cx="649.09" cy="95.75" r="2.6" fill="#000"/>
<circle cx="653.76" cy="96.51" r="2.6" fill="#000"/>
<circle cx="658.43" cy="97.55" r="2.6" fill="#000"/>
<circle cx="663.10" cy="94.23" r="2.6" fill="#000"/>
<circle cx="667.78" cy="98.24" r="2.6" fill="#000"/>
<line x1="396.20" y1="97.55" x2="668.01" y2="97.55" stroke="#ff0000" stroke-width="1.45" stroke-dasharray="6.5 5.57"/>
<path d="M420.36,93.55 L420.36,101.55 M416.90,95.55 L423.82,99.55 M416.90,99.55 L423.82,95.55" stroke="#00f000" stroke-width="2.2" stroke-linecap="round" fill="none"/>
<line x1="397.00" y1="28.30" x2="397.00" y2="166.50" stroke="#444" stroke-width="1"/>
<line x1="677.50" y1="28.30" x2="677.50" y2="166.50" stroke="#444" stroke-width="1"/>
<line x1="396.50" y1="28.30" x2="678.00" y2="28.30" stroke="#444" stroke-width="1"/>
<line x1="396.50" y1="166.50" x2="678.00" y2="166.50" stroke="#444" stroke-width="1"/>
<line x1="393.00" y1="42.19" x2="396.80" y2="42.19" stroke="#444" stroke-width="1"/>
<text x="366.47" y="47.19" font-size="14" textLength="20.62" lengthAdjust="spacingAndGlyphs">0.8</text>
<line x1="393.00" y1="97.55" x2="396.80" y2="97.55" stroke="#444" stroke-width="1"/>
<text x="376.99" y="102.55" font-size="14" textLength="8.03" lengthAdjust="spacingAndGlyphs">0</text>
<line x1="393.00" y1="152.91" x2="396.80" y2="152.91" stroke="#444" stroke-width="1"/>
<text x="361.89" y="157.91" font-size="14" textLength="25.71" lengthAdjust="spacingAndGlyphs">-0.8</text>
<line x1="394.60" y1="69.87" x2="396.80" y2="69.87" stroke="#444" stroke-width="1"/>
<line x1="394.60" y1="125.23" x2="396.80" y2="125.23" stroke="#444" stroke-width="1"/>
<path d="M401.47,254.24 L406.14,256.97 L410.82,233.03 L415.49,227.56 L420.16,231.66 L424.83,234.40 L429.50,222.09 L434.18,238.30 L438.85,252.87 L443.52,234.40 L448.19,272.02 L452.86,234.40 L457.54,243.09 L462.21,235.08 L466.88,234.40 L471.55,234.40 L476.22,235.77 L480.90,234.40 L485.57,234.40 L490.24,232.62 L494.91,234.40 L499.58,235.56 L504.26,252.32 L508.93,232.62 L513.60,235.29 L518.27,233.03 L522.94,234.40 L527.62,233.72 L532.29,229.75 L536.96,236.32 L541.63,234.40 L546.30,232.21 L550.98,235.56 L555.65,232.21 L560.32,233.37 L564.99,234.40 L569.66,234.40 L574.34,230.57 L579.01,234.40 L583.68,233.03 L588.35,235.08 L593.02,237.27 L597.70,233.31 L602.37,236.04 L607.04,233.72 L611.71,236.79 L616.38,234.40 L621.06,233.72 L625.73,234.40 L630.40,233.31 L635.07,235.29 L639.74,234.40 L644.42,234.40 L649.09,233.72 L653.76,233.03 L658.43,234.40 L663.10,234.40 L667.78,237.14" fill="none" stroke="#000" stroke-width="0.7"/>
<circle cx="401.47" cy="254.24" r="2.6" fill="#000"/>
<circle cx="406.14" cy="256.97" r="2.6" fill="#000"/>
<circle cx="410.82" cy="233.03" r="2.6" fill="#000"/>
<circle cx="415.49" cy="227.56" r="2.6" fill="#000"/>
<circle cx="420.16" cy="231.66" r="2.6" fill="#000"/>
<circle cx="424.83" cy="234.40" r="2.6" fill="#000"/>
<circle cx="429.50" cy="222.09" r="2.6" fill="#000"/>
<circle cx="434.18" cy="238.30" r="2.6" fill="#000"/>
<circle cx="438.85" cy="252.87" r="2.6" fill="#000"/>
<circle cx="443.52" cy="234.40" r="2.6" fill="#000"/>
<circle cx="448.19" cy="272.02" r="2.6" fill="#000"/>
<circle cx="452.86" cy="234.40" r="2.6" fill="#000"/>
<circle cx="457.54" cy="243.09" r="2.6" fill="#000"/>
<circle cx="462.21" cy="235.08" r="2.6" fill="#000"/>
<circle cx="466.88" cy="234.40" r="2.6" fill="#000"/>
<circle cx="471.55" cy="234.40" r="2.6" fill="#000"/>
<circle cx="476.22" cy="235.77" r="2.6" fill="#000"/>
<circle cx="480.90" cy="234.40" r="2.6" fill="#000"/>
<circle cx="485.57" cy="234.40" r="2.6" fill="#000"/>
<circle cx="490.24" cy="232.62" r="2.6" fill="#000"/>
<circle cx="494.91" cy="234.40" r="2.6" fill="#000"/>
<circle cx="499.58" cy="235.56" r="2.6" fill="#000"/>
<circle cx="504.26" cy="252.32" r="2.6" fill="#000"/>
<circle cx="508.93" cy="232.62" r="2.6" fill="#000"/>
<circle cx="513.60" cy="235.29" r="2.6" fill="#000"/>
<circle cx="518.27" cy="233.03" r="2.6" fill="#000"/>
<circle cx="522.94" cy="234.40" r="2.6" fill="#000"/>
<circle cx="527.62" cy="233.72" r="2.6" fill="#000"/>
<circle cx="532.29" cy="229.75" r="2.6" fill="#000"/>
<circle cx="536.96" cy="236.32" r="2.6" fill="#000"/>
<circle cx="541.63" cy="234.40" r="2.6" fill="#000"/>
<circle cx="546.30" cy="232.21" r="2.6" fill="#000"/>
<circle cx="550.98" cy="235.56" r="2.6" fill="#000"/>
<circle cx="555.65" cy="232.21" r="2.6" fill="#000"/>
<circle cx="560.32" cy="233.37" r="2.6" fill="#000"/>
<circle cx="564.99" cy="234.40" r="2.6" fill="#000"/>
<circle cx="569.66" cy="234.40" r="2.6" fill="#000"/>
<circle cx="574.34" cy="230.57" r="2.6" fill="#000"/>
<circle cx="579.01" cy="234.40" r="2.6" fill="#000"/>
<circle cx="583.68" cy="233.03" r="2.6" fill="#000"/>
<circle cx="588.35" cy="235.08" r="2.6" fill="#000"/>
<circle cx="593.02" cy="237.27" r="2.6" fill="#000"/>
<circle cx="597.70" cy="233.31" r="2.6" fill="#000"/>
<circle cx="602.37" cy="236.04" r="2.6" fill="#000"/>
<circle cx="607.04" cy="233.72" r="2.6" fill="#000"/>
<circle cx="611.71" cy="236.79" r="2.6" fill="#000"/>
<circle cx="616.38" cy="234.40" r="2.6" fill="#000"/>
<circle cx="621.06" cy="233.72" r="2.6" fill="#000"/>
<circle cx="625.73" cy="234.40" r="2.6" fill="#000"/>
<circle cx="630.40" cy="233.31" r="2.6" fill="#000"/>
<circle cx="635.07" cy="235.29" r="2.6" fill="#000"/>
<circle cx="639.74" cy="234.40" r="2.6" fill="#000"/>
<circle cx="644.42" cy="234.40" r="2.6" fill="#000"/>
<circle cx="649.09" cy="233.72" r="2.6" fill="#000"/>
<circle cx="653.76" cy="233.03" r="2.6" fill="#000"/>
<circle cx="658.43" cy="234.40" r="2.6" fill="#000"/>
<circle cx="663.10" cy="234.40" r="2.6" fill="#000"/>
<circle cx="667.78" cy="237.14" r="2.6" fill="#000"/>
<line x1="396.20" y1="234.40" x2="668.01" y2="234.40" stroke="#ff0000" stroke-width="1.45" stroke-dasharray="6.5 5.57"/>
<path d="M425.93,230.40 L425.93,238.40 M422.47,232.40 L429.40,236.40 M422.47,236.40 L429.40,232.40" stroke="#00f000" stroke-width="2.2" stroke-linecap="round" fill="none"/>
<line x1="397.00" y1="166.50" x2="397.00" y2="303.95" stroke="#444" stroke-width="1"/>
<line x1="677.50" y1="166.50" x2="677.50" y2="303.95" stroke="#444" stroke-width="1"/>
<line x1="396.50" y1="166.50" x2="678.00" y2="166.50" stroke="#444" stroke-width="1"/>
<line x1="396.50" y1="303.95" x2="678.00" y2="303.95" stroke="#444" stroke-width="1"/>
<line x1="393.00" y1="179.68" x2="396.80" y2="179.68" stroke="#444" stroke-width="1"/>
<text x="366.07" y="184.68" font-size="14" textLength="20.62" lengthAdjust="spacingAndGlyphs">0.8</text>
<line x1="393.00" y1="234.40" x2="396.80" y2="234.40" stroke="#444" stroke-width="1"/>
<text x="376.99" y="239.40" font-size="14" textLength="8.03" lengthAdjust="spacingAndGlyphs">0</text>
<line x1="393.00" y1="289.12" x2="396.80" y2="289.12" stroke="#444" stroke-width="1"/>
<text x="362.49" y="294.12" font-size="14" textLength="25.71" lengthAdjust="spacingAndGlyphs">-0.8</text>
<line x1="394.60" y1="207.04" x2="396.80" y2="207.04" stroke="#444" stroke-width="1"/>
<line x1="394.60" y1="261.76" x2="396.80" y2="261.76" stroke="#444" stroke-width="1"/>
<path d="M401.47,371.68 L406.14,424.44 L410.82,363.99 L415.49,365.58 L420.16,373.89 L424.83,372.78 L429.50,373.20 L434.18,373.89 L438.85,386.84 L443.52,371.12 L448.19,371.12 L452.86,366.41 L457.54,368.14 L462.21,374.58 L466.88,370.43 L471.55,372.09 L476.22,373.89 L480.90,372.09 L485.57,371.68 L490.24,373.89 L494.91,373.20 L499.58,377.84 L504.26,387.33 L508.93,368.35 L513.60,375.07 L518.27,383.59 L522.94,372.72 L527.62,371.26 L532.29,368.35 L536.96,372.51 L541.63,373.20 L546.30,370.57 L550.98,374.17 L555.65,373.20 L560.32,369.05 L564.99,372.02 L569.66,370.98 L574.34,370.57 L579.01,372.85 L583.68,374.86 L588.35,373.20 L593.02,377.22 L597.70,372.51 L602.37,374.86 L607.04,372.16 L611.71,371.81 L616.38,373.20 L621.06,373.20 L625.73,373.20 L630.40,373.20 L635.07,371.33 L639.74,373.20 L644.42,373.20 L649.09,373.20 L653.76,373.20 L658.43,373.20 L663.10,373.20 L667.78,373.20" fill="none" stroke="#000" stroke-width="0.7"/>
<circle cx="401.47" cy="371.68" r="2.6" fill="#000"/>
<circle cx="406.14" cy="424.44" r="2.6" fill="#000"/>
<circle cx="410.82" cy="363.99" r="2.6" fill="#000"/>
<circle cx="415.49" cy="365.58" r="2.6" fill="#000"/>
<circle cx="420.16" cy="373.89" r="2.6" fill="#000"/>
<circle cx="424.83" cy="372.78" r="2.6" fill="#000"/>
<circle cx="429.50" cy="373.20" r="2.6" fill="#000"/>
<circle cx="434.18" cy="373.89" r="2.6" fill="#000"/>
<circle cx="438.85" cy="386.84" r="2.6" fill="#000"/>
<circle cx="443.52" cy="371.12" r="2.6" fill="#000"/>
<circle cx="448.19" cy="371.12" r="2.6" fill="#000"/>
<circle cx="452.86" cy="366.41" r="2.6" fill="#000"/>
<circle cx="457.54" cy="368.14" r="2.6" fill="#000"/>
<circle cx="462.21" cy="374.58" r="2.6" fill="#000"/>
<circle cx="466.88" cy="370.43" r="2.6" fill="#000"/>
<circle cx="471.55" cy="372.09" r="2.6" fill="#000"/>
<circle cx="476.22" cy="373.89" r="2.6" fill="#000"/>
<circle cx="480.90" cy="372.09" r="2.6" fill="#000"/>
<circle cx="485.57" cy="371.68" r="2.6" fill="#000"/>
<circle cx="490.24" cy="373.89" r="2.6" fill="#000"/>
<circle cx="494.91" cy="373.20" r="2.6" fill="#000"/>
<circle cx="499.58" cy="377.84" r="2.6" fill="#000"/>
<circle cx="504.26" cy="387.33" r="2.6" fill="#000"/>
<circle cx="508.93" cy="368.35" r="2.6" fill="#000"/>
<circle cx="513.60" cy="375.07" r="2.6" fill="#000"/>
<circle cx="518.27" cy="383.59" r="2.6" fill="#000"/>
<circle cx="522.94" cy="372.72" r="2.6" fill="#000"/>
<circle cx="527.62" cy="371.26" r="2.6" fill="#000"/>
<circle cx="532.29" cy="368.35" r="2.6" fill="#000"/>
<circle cx="536.96" cy="372.51" r="2.6" fill="#000"/>
<circle cx="541.63" cy="373.20" r="2.6" fill="#000"/>
<circle cx="546.30" cy="370.57" r="2.6" fill="#000"/>
<circle cx="550.98" cy="374.17" r="2.6" fill="#000"/>
<circle cx="555.65" cy="373.20" r="2.6" fill="#000"/>
<circle cx="560.32" cy="369.05" r="2.6" fill="#000"/>
<circle cx="564.99" cy="372.02" r="2.6" fill="#000"/>
<circle cx="569.66" cy="370.98" r="2.6" fill="#000"/>
<circle cx="574.34" cy="370.57" r="2.6" fill="#000"/>
<circle cx="579.01" cy="372.85" r="2.6" fill="#000"/>
<circle cx="583.68" cy="374.86" r="2.6" fill="#000"/>
<circle cx="588.35" cy="373.20" r="2.6" fill="#000"/>
<circle cx="593.02" cy="377.22" r="2.6" fill="#000"/>
<circle cx="597.70" cy="372.51" r="2.6" fill="#000"/>
<circle cx="602.37" cy="374.86" r="2.6" fill="#000"/>
<circle cx="607.04" cy="372.16" r="2.6" fill="#000"/>
<circle cx="611.71" cy="371.81" r="2.6" fill="#000"/>
<circle cx="616.38" cy="373.20" r="2.6" fill="#000"/>
<circle cx="621.06" cy="373.20" r="2.6" fill="#000"/>
<circle cx="625.73" cy="373.20" r="2.6" fill="#000"/>
<circle cx="630.40" cy="373.20" r="2.6" fill="#000"/>
<circle cx="635.07" cy="371.33" r="2.6" fill="#000"/>
<circle cx="639.74" cy="373.20" r="2.6" fill="#000"/>
<circle cx="644.42" cy="373.20" r="2.6" fill="#000"/>
<circle cx="649.09" cy="373.20" r="2.6" fill="#000"/>
<circle cx="653.76" cy="373.20" r="2.6" fill="#000"/>
<circle cx="658.43" cy="373.20" r="2.6" fill="#000"/>
<circle cx="663.10" cy="373.20" r="2.6" fill="#000"/>
<circle cx="667.78" cy="373.20" r="2.6" fill="#000"/>
<line x1="396.20" y1="373.20" x2="668.01" y2="373.20" stroke="#ff0000" stroke-width="1.45" stroke-dasharray="6.5 5.57"/>
<path d="M430.00,369.20 L430.00,377.20 M426.54,371.20 L433.47,375.20 M426.54,375.20 L433.47,371.20" stroke="#00f000" stroke-width="2.2" stroke-linecap="round" fill="none"/>
<line x1="397.00" y1="303.95" x2="397.00" y2="443.05" stroke="#444" stroke-width="1"/>
<line x1="677.50" y1="303.95" x2="677.50" y2="443.05" stroke="#444" stroke-width="1"/>
<line x1="396.50" y1="303.95" x2="678.00" y2="303.95" stroke="#444" stroke-width="1"/>
<line x1="396.50" y1="443.05" x2="678.00" y2="443.05" stroke="#444" stroke-width="1"/>
<line x1="393.00" y1="317.80" x2="396.80" y2="317.80" stroke="#444" stroke-width="1"/>
<text x="365.06" y="322.80" font-size="14" textLength="21.05" lengthAdjust="spacingAndGlyphs">0.8</text>
<line x1="393.00" y1="373.20" x2="396.80" y2="373.20" stroke="#444" stroke-width="1"/>
<text x="379.90" y="378.20" font-size="14" textLength="7.79" lengthAdjust="spacingAndGlyphs">0</text>
<line x1="393.00" y1="428.60" x2="396.80" y2="428.60" stroke="#444" stroke-width="1"/>
<text x="362.49" y="433.60" font-size="14" textLength="25.71" lengthAdjust="spacingAndGlyphs">-0.8</text>
<line x1="394.60" y1="345.50" x2="396.80" y2="345.50" stroke="#444" stroke-width="1"/>
<line x1="394.60" y1="400.90" x2="396.80" y2="400.90" stroke="#444" stroke-width="1"/>
<path d="M401.47,556.14 L406.14,492.84 L410.82,501.00 L415.49,505.14 L420.16,519.24 L424.83,542.94 L429.50,481.65 L434.18,566.30 L438.85,482.69 L443.52,512.40 L448.19,512.40 L452.86,507.98 L457.54,472.32 L462.21,513.51 L466.88,511.29 L471.55,512.81 L476.22,511.29 L480.90,513.92 L485.57,508.25 L490.24,507.91 L494.91,512.40 L499.58,514.47 L504.26,520.00 L508.93,516.06 L513.60,513.78 L518.27,502.52 L522.94,512.40 L527.62,512.40 L532.29,509.50 L536.96,516.41 L541.63,513.44 L546.30,514.20 L550.98,514.20 L555.65,511.71 L560.32,513.44 L564.99,512.75 L569.66,511.29 L574.34,507.63 L579.01,512.40 L583.68,517.24 L588.35,512.40 L593.02,516.41 L597.70,509.22 L602.37,508.25 L607.04,512.40 L611.71,516.89 L616.38,512.40 L621.06,512.40 L625.73,512.40 L630.40,512.40 L635.07,512.40 L639.74,511.36 L644.42,512.40 L649.09,512.40 L653.76,512.40 L658.43,512.40 L663.10,510.33 L667.78,515.65" fill="none" stroke="#000" stroke-width="0.7"/>
<circle cx="401.47" cy="556.14" r="2.6" fill="#000"/>
<circle cx="406.14" cy="492.84" r="2.6" fill="#000"/>
<circle cx="410.82" cy="501.00" r="2.6" fill="#000"/>
<circle cx="415.49" cy="505.14" r="2.6" fill="#000"/>
<circle cx="420.16" cy="519.24" r="2.6" fill="#000"/>
<circle cx="424.83" cy="542.94" r="2.6" fill="#000"/>
<circle cx="429.50" cy="481.65" r="2.6" fill="#000"/>
<circle cx="434.18" cy="566.30" r="2.6" fill="#000"/>
<circle cx="438.85" cy="482.69" r="2.6" fill="#000"/>
<circle cx="443.52" cy="512.40" r="2.6" fill="#000"/>
<circle cx="448.19" cy="512.40" r="2.6" fill="#000"/>
<circle cx="452.86" cy="507.98" r="2.6" fill="#000"/>
<circle cx="457.54" cy="472.32" r="2.6" fill="#000"/>
<circle cx="462.21" cy="513.51" r="2.6" fill="#000"/>
<circle cx="466.88" cy="511.29" r="2.6" fill="#000"/>
<circle cx="471.55" cy="512.81" r="2.6" fill="#000"/>
<circle cx="476.22" cy="511.29" r="2.6" fill="#000"/>
<circle cx="480.90" cy="513.92" r="2.6" fill="#000"/>
<circle cx="485.57" cy="508.25" r="2.6" fill="#000"/>
<circle cx="490.24" cy="507.91" r="2.6" fill="#000"/>
<circle cx="494.91" cy="512.40" r="2.6" fill="#000"/>
<circle cx="499.58" cy="514.47" r="2.6" fill="#000"/>
<circle cx="504.26" cy="520.00" r="2.6" fill="#000"/>
<circle cx="508.93" cy="516.06" r="2.6" fill="#000"/>
<circle cx="513.60" cy="513.78" r="2.6" fill="#000"/>
<circle cx="518.27" cy="502.52" r="2.6" fill="#000"/>
<circle cx="522.94" cy="512.40" r="2.6" fill="#000"/>
<circle cx="527.62" cy="512.40" r="2.6" fill="#000"/>
<circle cx="532.29" cy="509.50" r="2.6" fill="#000"/>
<circle cx="536.96" cy="516.41" r="2.6" fill="#000"/>
<circle cx="541.63" cy="513.44" r="2.6" fill="#000"/>
<circle cx="546.30" cy="514.20" r="2.6" fill="#000"/>
<circle cx="550.98" cy="514.20" r="2.6" fill="#000"/>
<circle cx="555.65" cy="511.71" r="2.6" fill="#000"/>
<circle cx="560.32" cy="513.44" r="2.6" fill="#000"/>
<circle cx="564.99" cy="512.75" r="2.6" fill="#000"/>
<circle cx="569.66" cy="511.29" r="2.6" fill="#000"/>
<circle cx="574.34" cy="507.63" r="2.6" fill="#000"/>
<circle cx="579.01" cy="512.40" r="2.6" fill="#000"/>
<circle cx="583.68" cy="517.24" r="2.6" fill="#000"/>
<circle cx="588.35" cy="512.40" r="2.6" fill="#000"/>
<circle cx="593.02" cy="516.41" r="2.6" fill="#000"/>
<circle cx="597.70" cy="509.22" r="2.6" fill="#000"/>
<circle cx="602.37" cy="508.25" r="2.6" fill="#000"/>
<circle cx="607.04" cy="512.40" r="2.6" fill="#000"/>
<circle cx="611.71" cy="516.89" r="2.6" fill="#000"/>
<circle cx="616.38" cy="512.40" r="2.6" fill="#000"/>
<circle cx="621.06" cy="512.40" r="2.6" fill="#000"/>
<circle cx="625.73" cy="512.40" r="2.6" fill="#000"/>
<circle cx="630.40" cy="512.40" r="2.6" fill="#000"/>
<circle cx="635.07" cy="512.40" r="2.6" fill="#000"/>
<circle cx="639.74" cy="511.36" r="2.6" fill="#000"/>
<circle cx="644.42" cy="512.40" r="2.6" fill="#000"/>
<circle cx="649.09" cy="512.40" r="2.6" fill="#000"/>
<circle cx="653.76" cy="512.40" r="2.6" fill="#000"/>
<circle cx="658.43" cy="512.40" r="2.6" fill="#000"/>
<circle cx="663.10" cy="510.33" r="2.6" fill="#000"/>
<circle cx="667.78" cy="515.65" r="2.6" fill="#000"/>
<line x1="396.20" y1="512.40" x2="668.01" y2="512.40" stroke="#ff0000" stroke-width="1.45" stroke-dasharray="6.5 5.57"/>
<path d="M449.09,508.40 L449.09,516.40 M445.63,510.40 L452.56,514.40 M445.63,514.40 L452.56,510.40" stroke="#00f000" stroke-width="2.2" stroke-linecap="round" fill="none"/>
<line x1="397.00" y1="443.05" x2="397.00" y2="581.60" stroke="#444" stroke-width="1"/>
<line x1="677.50" y1="443.05" x2="677.50" y2="581.60" stroke="#444" stroke-width="1"/>
<line x1="396.50" y1="443.05" x2="678.00" y2="443.05" stroke="#444" stroke-width="1"/>
<line x1="396.50" y1="581.60" x2="678.00" y2="581.60" stroke="#444" stroke-width="1"/>
<line x1="393.00" y1="457.12" x2="396.80" y2="457.12" stroke="#444" stroke-width="1"/>
<text x="367.47" y="462.12" font-size="14" textLength="20.73" lengthAdjust="spacingAndGlyphs">0.8</text>
<line x1="393.00" y1="512.40" x2="396.80" y2="512.40" stroke="#444" stroke-width="1"/>
<text x="379.90" y="517.40" font-size="14" textLength="7.79" lengthAdjust="spacingAndGlyphs">0</text>
<line x1="393.00" y1="567.68" x2="396.80" y2="567.68" stroke="#444" stroke-width="1"/>
<text x="361.88" y="572.68" font-size="14" textLength="25.92" lengthAdjust="spacingAndGlyphs">-0.8</text>
<line x1="394.60" y1="484.76" x2="396.80" y2="484.76" stroke="#444" stroke-width="1"/>
<line x1="394.60" y1="540.04" x2="396.80" y2="540.04" stroke="#444" stroke-width="1"/>
<line x1="396.80" y1="581.60" x2="396.80" y2="584.80" stroke="#444" stroke-width="1"/>
<text x="396.80" y="598.20" font-size="14" text-anchor="middle">0</text>
<line x1="420.16" y1="581.60" x2="420.16" y2="583.60" stroke="#444" stroke-width="1"/>
<line x1="443.52" y1="581.60" x2="443.52" y2="584.80" stroke="#444" stroke-width="1"/>
<text x="443.52" y="598.20" font-size="14" text-anchor="middle">10</text>
<line x1="466.88" y1="581.60" x2="466.88" y2="583.60" stroke="#444" stroke-width="1"/>
<line x1="490.24" y1="581.60" x2="490.24" y2="584.80" stroke="#444" stroke-width="1"/>
<text x="490.24" y="598.20" font-size="14" text-anchor="middle">20</text>
<line x1="513.60" y1="581.60" x2="513.60" y2="583.60" stroke="#444" stroke-width="1"/>
<line x1="536.96" y1="581.60" x2="536.96" y2="584.80" stroke="#444" stroke-width="1"/>
<text x="536.96" y="598.20" font-size="14" text-anchor="middle">30</text>
<line x1="560.32" y1="581.60" x2="560.32" y2="583.60" stroke="#444" stroke-width="1"/>
<line x1="583.68" y1="581.60" x2="583.68" y2="584.80" stroke="#444" stroke-width="1"/>
<text x="583.68" y="598.20" font-size="14" text-anchor="middle">40</text>
<line x1="607.04" y1="581.60" x2="607.04" y2="583.60" stroke="#444" stroke-width="1"/>
<line x1="630.40" y1="581.60" x2="630.40" y2="584.80" stroke="#444" stroke-width="1"/>
<text x="630.40" y="598.20" font-size="14" text-anchor="middle">50</text>
<line x1="653.76" y1="581.60" x2="653.76" y2="583.60" stroke="#444" stroke-width="1"/>
<line x1="677.12" y1="581.60" x2="677.12" y2="584.80" stroke="#444" stroke-width="1"/>
<text x="677.12" y="598.20" font-size="14" text-anchor="middle">60</text>
<text x="37.22" y="13.6" font-size="14" textLength="25.79" lengthAdjust="spacingAndGlyphs">X10</text>
<text x="63.95" y="5.8" font-size="8.2" textLength="4.34" lengthAdjust="spacingAndGlyphs">3</text>
<text x="377.22" y="13.6" font-size="14" textLength="25.79" lengthAdjust="spacingAndGlyphs">X10</text>
<text x="403.95" y="5.8" font-size="8.2" textLength="4.34" lengthAdjust="spacingAndGlyphs">3</text>
<text x="87.30" y="41.60" font-size="13.0" fill="#000" textLength="27.20" lengthAdjust="spacingAndGlyphs">(a1)</text>
<text x="87.21" y="180.80" font-size="13.0" fill="#000" textLength="26.87" lengthAdjust="spacingAndGlyphs">(a2)</text>
<text x="87.20" y="315.90" font-size="13.0" fill="#000" textLength="27.30" lengthAdjust="spacingAndGlyphs">(a3)</text>
<text x="87.46" y="457.10" font-size="13.0" fill="#000" textLength="28.49" lengthAdjust="spacingAndGlyphs">(a4)</text>
<text x="429.50" y="42.50" font-size="13.0" fill="#000" textLength="27.30" lengthAdjust="spacingAndGlyphs">(b1)</text>
<text x="430.78" y="180.10" font-size="13.0" fill="#000" textLength="27.95" lengthAdjust="spacingAndGlyphs">(b2)</text>
<text x="431.97" y="316.60" font-size="13.0" fill="#000" textLength="28.06" lengthAdjust="spacingAndGlyphs">(b3)</text>
<text x="430.05" y="458.90" font-size="13.0" fill="#000" textLength="28.81" lengthAdjust="spacingAndGlyphs">(b4)</text>
<text x="259.03" y="50.40" font-size="14.3" fill="#000" textLength="44.79" lengthAdjust="spacingAndGlyphs">Beijing</text>
<text x="253.57" y="189.00" font-size="14.3" fill="#000" textLength="63.49" lengthAdjust="spacingAndGlyphs">Shanghai</text>
<text x="244.10" y="323.80" font-size="14.3" fill="#000" textLength="77.35" lengthAdjust="spacingAndGlyphs">Guangzhou</text>
<text x="243.32" y="463.40" font-size="14.3" fill="#000" textLength="75.10" lengthAdjust="spacingAndGlyphs">Hong Kong</text>
<text x="597.22" y="51.90" font-size="14.3" fill="#000" textLength="32.60" lengthAdjust="spacingAndGlyphs">Xi&#39;an</text>
<text x="599.70" y="188.00" font-size="14.3" fill="#000" textLength="38.12" lengthAdjust="spacingAndGlyphs">Guilin</text>
<text x="598.42" y="326.00" font-size="14.3" fill="#000" textLength="68.32" lengthAdjust="spacingAndGlyphs">Hangzhou</text>
<text x="598.29" y="465.00" font-size="14.3" fill="#000" textLength="72.12" lengthAdjust="spacingAndGlyphs">Chongqing</text>
<text x="72.55" y="48.20" font-size="11.0" fill="#ff0000" textLength="6.59" lengthAdjust="spacingAndGlyphs" stroke="#ff0000" stroke-width="0.15">2</text>
<text x="77.71" y="68.40" font-size="11.0" fill="#ff0000" textLength="5.91" lengthAdjust="spacingAndGlyphs" stroke="#ff0000" stroke-width="0.15">6</text>
<text x="85.62" y="63.70" font-size="11.0" fill="#ff0000" textLength="5.75" lengthAdjust="spacingAndGlyphs" stroke="#ff0000" stroke-width="0.15">7</text>
<text x="95.10" y="62.00" font-size="11.0" fill="#ff0000" textLength="6.50" lengthAdjust="spacingAndGlyphs" stroke="#ff0000" stroke-width="0.15">9</text>
<text x="112.75" y="61.00" font-size="11.0" fill="#ff0000" textLength="77.83" lengthAdjust="spacingAndGlyphs" stroke="#ff0000" stroke-width="0.15">11(Chongqing)</text>
<text x="123.66" y="161.60" font-size="11.0" fill="#ff0000" textLength="55.42" lengthAdjust="spacingAndGlyphs" stroke="#ff0000" stroke-width="0.15">13(Tianjin)</text>
<text x="74.32" y="196.10" font-size="11.0" fill="#ff0000" textLength="65.17" lengthAdjust="spacingAndGlyphs" stroke="#ff0000" stroke-width="0.15">(Chongqing)</text>
<text x="100.57" y="208.60" font-size="11.0" fill="#ff0000" textLength="11.38" lengthAdjust="spacingAndGlyphs" stroke="#ff0000" stroke-width="0.15">11</text>
<text x="60.19" y="216.30" font-size="11.0" fill="#ff0000" stroke="#ff0000" stroke-width="0.15">1</text>
<text x="121.82" y="218.50" font-size="11.0" fill="#ff0000" textLength="12.11" lengthAdjust="spacingAndGlyphs" stroke="#ff0000" stroke-width="0.15">13</text>
<text x="103.59" y="292.90" font-size="11.0" fill="#ff0000" textLength="54.79" lengthAdjust="spacingAndGlyphs" stroke="#ff0000" stroke-width="0.15">9(Suzhou)</text>
<text x="71.55" y="398.20" font-size="11.0" fill="#ff0000" textLength="6.59" lengthAdjust="spacingAndGlyphs" stroke="#ff0000" stroke-width="0.15">2</text>
<text x="59.24" y="416.60" font-size="11.0" fill="#ff0000" stroke="#ff0000" stroke-width="0.15">1</text>
<text x="100.45" y="415.60" font-size="11.0" fill="#ff0000" textLength="78.13" lengthAdjust="spacingAndGlyphs" stroke="#ff0000" stroke-width="0.15">11(Chongqing)</text>
<text x="69.45" y="538.90" font-size="11.0" fill="#ff0000" textLength="6.59" lengthAdjust="spacingAndGlyphs" stroke="#ff0000" stroke-width="0.15">2</text>
<text x="60.24" y="553.00" font-size="11.0" fill="#ff0000" stroke="#ff0000" stroke-width="0.15">1</text>
<text x="98.34" y="548.90" font-size="11.0" fill="#ff0000" textLength="78.64" lengthAdjust="spacingAndGlyphs" stroke="#ff0000" stroke-width="0.15">11(Chongqing)</text>
<text x="408.26" y="77.30" font-size="11.0" fill="#ff0000" textLength="5.63" lengthAdjust="spacingAndGlyphs" stroke="#ff0000" stroke-width="0.15">3</text>
<text x="403.95" y="138.00" font-size="11.0" fill="#ff0000" textLength="6.59" lengthAdjust="spacingAndGlyphs" stroke="#ff0000" stroke-width="0.15">2</text>
<text x="436.32" y="142.70" font-size="11.0" fill="#ff0000" textLength="6.26" lengthAdjust="spacingAndGlyphs" stroke="#ff0000" stroke-width="0.15">9</text>
<text x="500.05" y="139.60" font-size="11.0" fill="#ff0000" textLength="13.22" lengthAdjust="spacingAndGlyphs" stroke="#ff0000" stroke-width="0.15">23</text>
<text x="427.51" y="216.10" font-size="11.0" fill="#ff0000" textLength="6.97" lengthAdjust="spacingAndGlyphs" stroke="#ff0000" stroke-width="0.15">7</text>
<text x="404.22" y="271.00" font-size="11.0" fill="#ff0000" textLength="6.96" lengthAdjust="spacingAndGlyphs" stroke="#ff0000" stroke-width="0.15">2</text>
<text x="435.48" y="268.80" font-size="11.0" fill="#ff0000" textLength="6.74" lengthAdjust="spacingAndGlyphs" stroke="#ff0000" stroke-width="0.15">9</text>
<text x="443.23" y="288.30" font-size="11.0" fill="#ff0000" textLength="11.94" lengthAdjust="spacingAndGlyphs" stroke="#ff0000" stroke-width="0.15">11</text>
<text x="499.13" y="269.30" font-size="11.0" fill="#ff0000" textLength="13.66" lengthAdjust="spacingAndGlyphs" stroke="#ff0000" stroke-width="0.15">23</text>
<text x="406.74" y="355.90" font-size="11.0" fill="#ff0000" textLength="5.98" lengthAdjust="spacingAndGlyphs" stroke="#ff0000" stroke-width="0.15">3</text>
<text x="436.67" y="402.00" font-size="11.0" fill="#ff0000" textLength="6.86" lengthAdjust="spacingAndGlyphs" stroke="#ff0000" stroke-width="0.15">9</text>
<text x="411.41" y="430.60" font-size="11.0" fill="#ff0000" textLength="7.08" lengthAdjust="spacingAndGlyphs" stroke="#ff0000" stroke-width="0.15">2</text>
<text x="402.91" y="484.40" font-size="11.0" fill="#ff0000" textLength="7.08" lengthAdjust="spacingAndGlyphs" stroke="#ff0000" stroke-width="0.15">2</text>
<text x="425.44" y="476.00" font-size="11.0" fill="#ff0000" textLength="6.61" lengthAdjust="spacingAndGlyphs" stroke="#ff0000" stroke-width="0.15">7</text>
<text x="436.26" y="476.00" font-size="11.0" fill="#ff0000" textLength="6.98" lengthAdjust="spacingAndGlyphs" stroke="#ff0000" stroke-width="0.15">9</text>
<text x="459.87" y="470.40" font-size="11.0" fill="#ff0000" textLength="12.78" lengthAdjust="spacingAndGlyphs" stroke="#ff0000" stroke-width="0.15">13</text>
<text x="405.54" y="562.60" font-size="11.0" fill="#ff0000" stroke="#ff0000" stroke-width="0.15">1</text>
<text x="420.71" y="558.00" font-size="11.0" fill="#ff0000" textLength="6.99" lengthAdjust="spacingAndGlyphs" stroke="#ff0000" stroke-width="0.15">6</text>
<text x="441.31" y="571.00" font-size="11.0" fill="#ff0000" textLength="6.87" lengthAdjust="spacingAndGlyphs" stroke="#ff0000" stroke-width="0.15">8</text>
<text x="301.65" y="628.2" font-size="19" textLength="103.24" lengthAdjust="spacingAndGlyphs">City Index, i</text>
<path d="M14.55,307.3 L14.55,320.5 L1.5,313.9 Z" fill="none" stroke="#000" stroke-width="1.35" stroke-linejoin="miter"/>
<text transform="translate(17.0,304.9) rotate(-90)" x="-0.62" y="0" font-size="21.5" textLength="14.25" lengthAdjust="spacingAndGlyphs" stroke="#000" stroke-width="0.45">S</text>
<text transform="translate(29.3,290.6) rotate(-90)" x="0" y="0" font-size="18">i</text>
</svg>
</body></html>
